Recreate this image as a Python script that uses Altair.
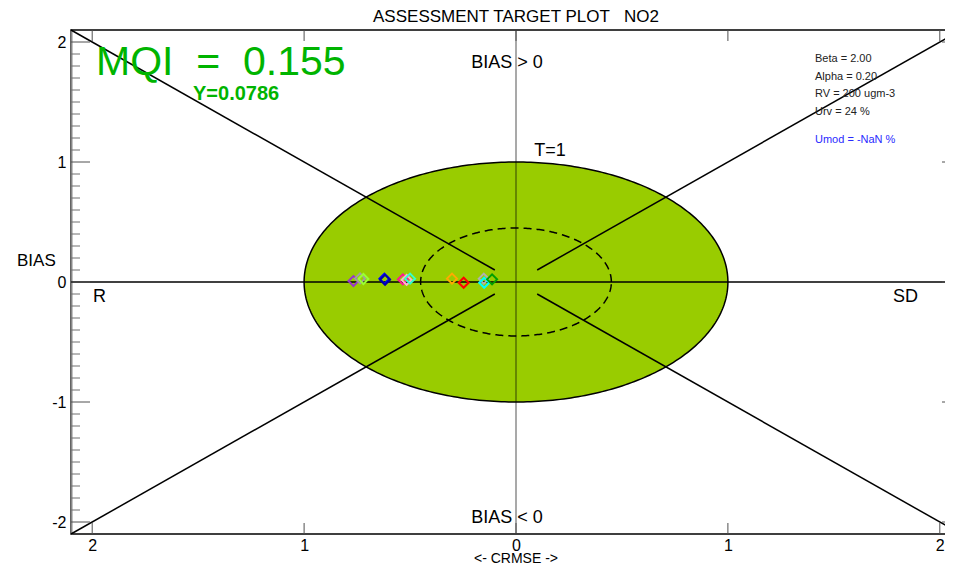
import altair as alt
import numpy as np
import pandas as pd

# ---------------- data ----------------
point_ids = ["p01", "p02", "p03", "p04", "p05", "p06", "p07", "p08", "p09", "p10", "p11", "p12", "p13"]
point_x = [-0.767, -0.736, -0.720, -0.621, -0.618, -0.534, -0.516, -0.500, -0.302, -0.247, -0.152, -0.150, -0.113]
point_y = [0.008, 0.030, 0.025, 0.028, 0.018, 0.022, 0.017, 0.028, 0.028, -0.006, 0.028, -0.006, 0.022]
point_colors = ["#9933cc", "#a0a0a0", "#99ff33", "#0000ff", "#0000aa", "#ff1493", "#ffb0d0",
                "#33ffcc", "#ffaa00", "#ff0000", "#b0b0b0", "#00ffff", "#00a000"]

target_radius = 1.0      # T = 1 circle
inner_radius = 0.45      # dashed circle

diag_x0 = [-2.1, 0.1, -2.1, 0.1]
diag_y0 = [2.1, 0.1, -2.1, -0.1]
diag_x1 = [-0.1, 2.1, -0.1, 2.1]
diag_y1 = [0.1, 2.1, -0.1, -2.1]

major_ticks = [-2, -1, 0, 1, 2]
minor_ticks = [round(-2 + 0.1 * i, 1) for i in range(41) if i % 10 != 0]

title_text = "ASSESSMENT TARGET PLOT\u00a0\u00a0\u00a0NO2"
mqi_text = "MQI\u00a0\u00a0=\u00a0\u00a00.155"
y_text = "Y=0.0786"
info_lines = ["Beta = 2.00", "Alpha = 0.20", "RV = 200 ugm-3", "Urv = 24 %"]
umod_text = "Umod = -NaN %"

# ---------------- layout ----------------
W, H = 890, 504
FONT = "Liberation Sans"
xs = alt.Scale(domain=[-2.1, 2.1], nice=False, zero=False)
ys = alt.Scale(domain=[-2.1, 2.1], nice=False, zero=False)

XAX = alt.Axis(values=major_ticks, labelExpr="format(abs(datum.value), 'd')",
               ticks=False, domain=False, grid=False, title="",
               labelFontSize=16, labelPadding=3, labelFont=FONT, labelColor="black")
YAX = alt.Axis(values=major_ticks, labelExpr="datum.value + ''", ticks=False, domain=True,
               domainColor="#888888", domainWidth=2, grid=False, title="",
               labelFontSize=16, labelPadding=5, labelFont=FONT, labelColor="black")


def X(field):
    return alt.X(field, scale=xs, axis=XAX)


def Y(field):
    return alt.Y(field, scale=ys, axis=YAX)


# ellipse fill (area between upper and lower halves)
t_half = np.linspace(np.pi, 0, 301)
fill_df = pd.DataFrame({
    "x": target_radius * np.cos(t_half),
    "y": target_radius * np.sin(t_half),
    "y2": -target_radius * np.sin(t_half),
})

t_full = np.linspace(0, 2 * np.pi, 361)
outer_df = pd.DataFrame({"x": target_radius * np.cos(t_full),
                         "y": target_radius * np.sin(t_full),
                         "o": np.arange(len(t_full))})
inner_df = pd.DataFrame({"x": inner_radius * np.cos(t_full),
                         "y": inner_radius * np.sin(t_full),
                         "o": np.arange(len(t_full))})

fill = alt.Chart(fill_df).mark_area(color="#99cc00", opacity=1).encode(
    x=X("x:Q"), y=Y("y:Q"), y2="y2:Q")

outer = alt.Chart(outer_df).mark_line(color="black", strokeWidth=1.5).encode(
    x=X("x:Q"), y=Y("y:Q"), order="o:Q")
inner = alt.Chart(inner_df).mark_line(color="black", strokeWidth=1.5, strokeDash=[8, 5]).encode(
    x=X("x:Q"), y=Y("y:Q"), order="o:Q")

hline = alt.Chart(pd.DataFrame({"v": [0]})).mark_rule(color="black", strokeWidth=1.5).encode(
    y=Y("v:Q"))
vline = alt.Chart(pd.DataFrame({"v": [0]})).mark_rule(color="black", strokeWidth=1.5, opacity=0.45).encode(
    x=X("v:Q"))

diag_df = pd.DataFrame({"x0": diag_x0, "y0": diag_y0, "x1": diag_x1, "y1": diag_y1})
diags = alt.Chart(diag_df).mark_rule(color="black", strokeWidth=1.5).encode(
    x=X("x0:Q"), y=Y("y0:Q"), x2="x1:Q", y2="y1:Q")

pts_df = pd.DataFrame({"id": point_ids, "x": point_x, "y": point_y})
points = alt.Chart(pts_df).mark_point(shape="diamond", filled=False, size=100, strokeWidth=2, opacity=1).encode(
    x=X("x:Q"), y=Y("y:Q"),
    color=alt.Color("id:N", scale=alt.Scale(domain=point_ids, range=point_colors), legend=None))

# ticks (inward)
TICK_C = "#707070"
ymin_df = pd.DataFrame({"v": minor_ticks})
ymaj_df = pd.DataFrame({"v": major_ticks})
tick_layers = [
    alt.Chart(ymin_df).mark_rule(color=TICK_C).encode(y=Y("v:Q"), x=alt.value(0), x2=alt.value(9)),
    alt.Chart(ymin_df).mark_rule(color=TICK_C).encode(y=Y("v:Q"), x=alt.value(W), x2=alt.value(W - 9)),
    alt.Chart(ymaj_df).mark_rule(color="#505050").encode(y=Y("v:Q"), x=alt.value(0), x2=alt.value(19)),
    alt.Chart(ymaj_df).mark_rule(color="#505050").encode(y=Y("v:Q"), x=alt.value(W), x2=alt.value(W - 19)),
    alt.Chart(ymaj_df).mark_rule(color="#505050").encode(x=X("v:Q"), y=alt.value(0), y2=alt.value(11)),
    alt.Chart(ymaj_df).mark_rule(color="#505050").encode(x=X("v:Q"), y=alt.value(H), y2=alt.value(H - 11)),
]


def label(txt, px, py, size, color="black", align="left", weight="normal", baseline="alphabetic"):
    return alt.Chart(pd.DataFrame({"t": [txt]})).mark_text(
        align=align, baseline=baseline, fontSize=size, font=FONT, color=color, fontWeight=weight
    ).encode(x=alt.value(px), y=alt.value(py), text="t:N")


texts = [
    label(title_text, 445, -8, 17, align="center"),
    label(mqi_text, 25, 45, 41, color="#00b400"),
    label(y_text, 122, 70, 20, color="#00b400", weight="bold"),
    label("BIAS > 0", 436, 38, 18, align="center"),
    label("BIAS < 0", 436, 493, 18, align="center"),
    label("T=1", 479, 126, 18, align="center"),
    label("R", 22, 272, 18),
    label("SD", 822, 272, 18),
    label("BIAS", -54, 236, 17),
    label("<- CRMSE ->", 445, 529, 14, align="center", baseline="middle"),
]
for i, line in enumerate(info_lines):
    texts.append(label(line, 744, 32 + 17.7 * i, 11, color="#222222"))
texts.append(label(umod_text, 744, 113, 11, color="#2a2aff"))

chart = alt.layer(
    fill, outer, inner, hline, vline, diags, points, *tick_layers, *texts
).properties(
    width=W, height=H,
    autosize=alt.AutoSizeParams(type="none"),
    padding={"left": 63, "top": 22, "right": -16, "bottom": 34},
).configure_view(stroke="black", strokeWidth=1.5).configure_text(font=FONT)

chart.save("out.html", embed_options={"renderer": "svg", "actions": False})
